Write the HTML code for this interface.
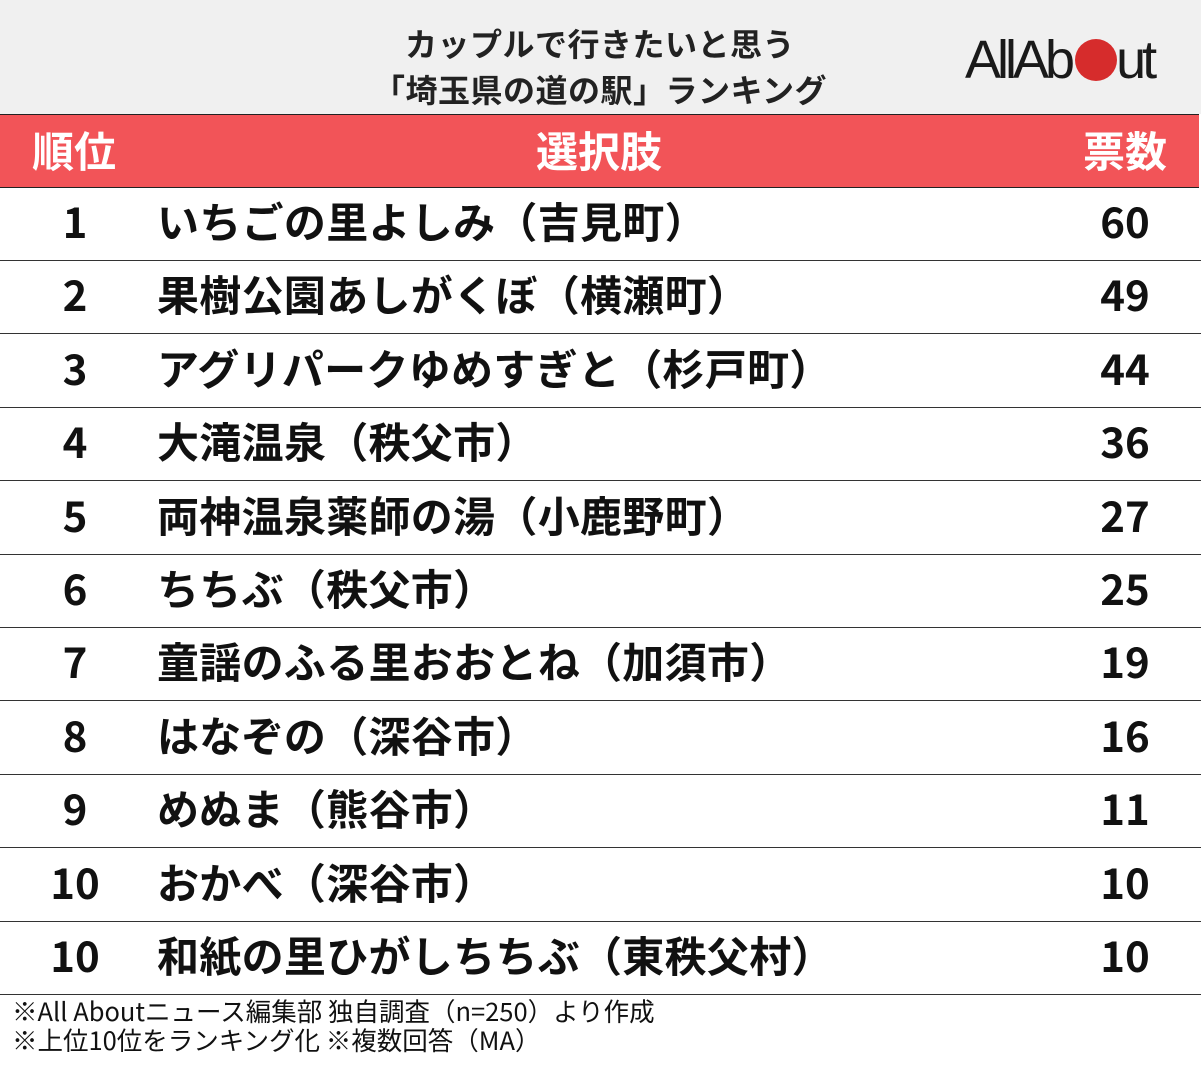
<!DOCTYPE html>
<html><head><meta charset="utf-8"><style>
body{margin:0;width:1201px;height:1069px;background:#fff;font-family:"Noto Sans CJK JP",sans-serif;overflow:hidden;position:relative}
#top{position:absolute;left:0;top:0;width:1201px;height:114px;background:#f0f0f0}
#title{position:absolute;left:250px;width:700px;top:20px;text-align:center;font:bold 32px/46px "Noto Sans CJK JP",sans-serif;color:#222;letter-spacing:0.5px}
#logo{position:absolute;left:965px;top:30px;font:54px/60px "Liberation Sans",sans-serif;color:#1a1a1a;letter-spacing:-4px;white-space:nowrap}
#logo .o{display:inline-block;width:42px;height:42px;border-radius:50%;background:#d62c2c;vertical-align:-3px;margin:0 -1px 0 4px}
#head{position:absolute;left:0;top:114px;width:1199px;height:72px;background:#f25458;border-top:1px solid #222;border-bottom:1px solid #222;color:#fff;font:bold 42px/70px "Noto Sans CJK JP",sans-serif}
.row{position:absolute;left:0;width:1201px;height:73px;border-bottom:1.5px solid #333;font:bold 42px/67px "Noto Sans CJK JP",sans-serif;color:#111}
.rk{position:absolute;left:25px;width:100px;text-align:center}
.nm{position:absolute;left:157px;letter-spacing:0.3px}
.vl{position:absolute;left:1075px;width:100px;text-align:center}
#foot{position:absolute;left:12px;top:996px;font:25.5px/29px "Noto Sans CJK JP",sans-serif;color:#111}
</style></head><body>
<div id="top">
<div id="title">カップルで行きたいと思う<br>「埼玉県の道の駅」ランキング</div>
<div id="logo">AllAb<span class="o"></span>ut</div>
</div>
<div id="head">
<span style="position:absolute;left:32px">順位</span>
<span style="position:absolute;left:536px">選択肢</span>
<span style="position:absolute;left:1083px">票数</span>
</div>
<div id="rows"></div>
<div id="foot">※All Aboutニュース編集部 独自調査（n=250）より作成<br>※上位10位をランキング化 ※複数回答（MA）</div>
<script>
const ranks=["1","2","3","4","5","6","7","8","9","10","10"];
const names=["いちごの里よしみ（吉見町）","果樹公園あしがくぼ（横瀬町）","アグリパークゆめすぎと（杉戸町）","大滝温泉（秩父市）","両神温泉薬師の湯（小鹿野町）","ちちぶ（秩父市）","童謡のふる里おおとね（加須市）","はなぞの（深谷市）","めぬま（熊谷市）","おかべ（深谷市）","和紙の里ひがしちちぶ（東秩父村）"];
const votes=[60,49,44,36,27,25,19,16,11,10,10];
const c=document.getElementById('rows');
names.forEach((n,i)=>{
 const r=document.createElement('div');r.className='row';r.style.top=(187+i*73.4)+'px';
 
 
 const a=document.createElement('span');a.className='rk';a.textContent=ranks[i];
 
 
 const b=document.createElement('span');b.className='nm';b.textContent=n;
 
 
 const v=document.createElement('span');v.className='vl';v.textContent=votes[i];
 
 
 r.append(a,b,v);c.appendChild(r);
});
</script>
</body></html>
